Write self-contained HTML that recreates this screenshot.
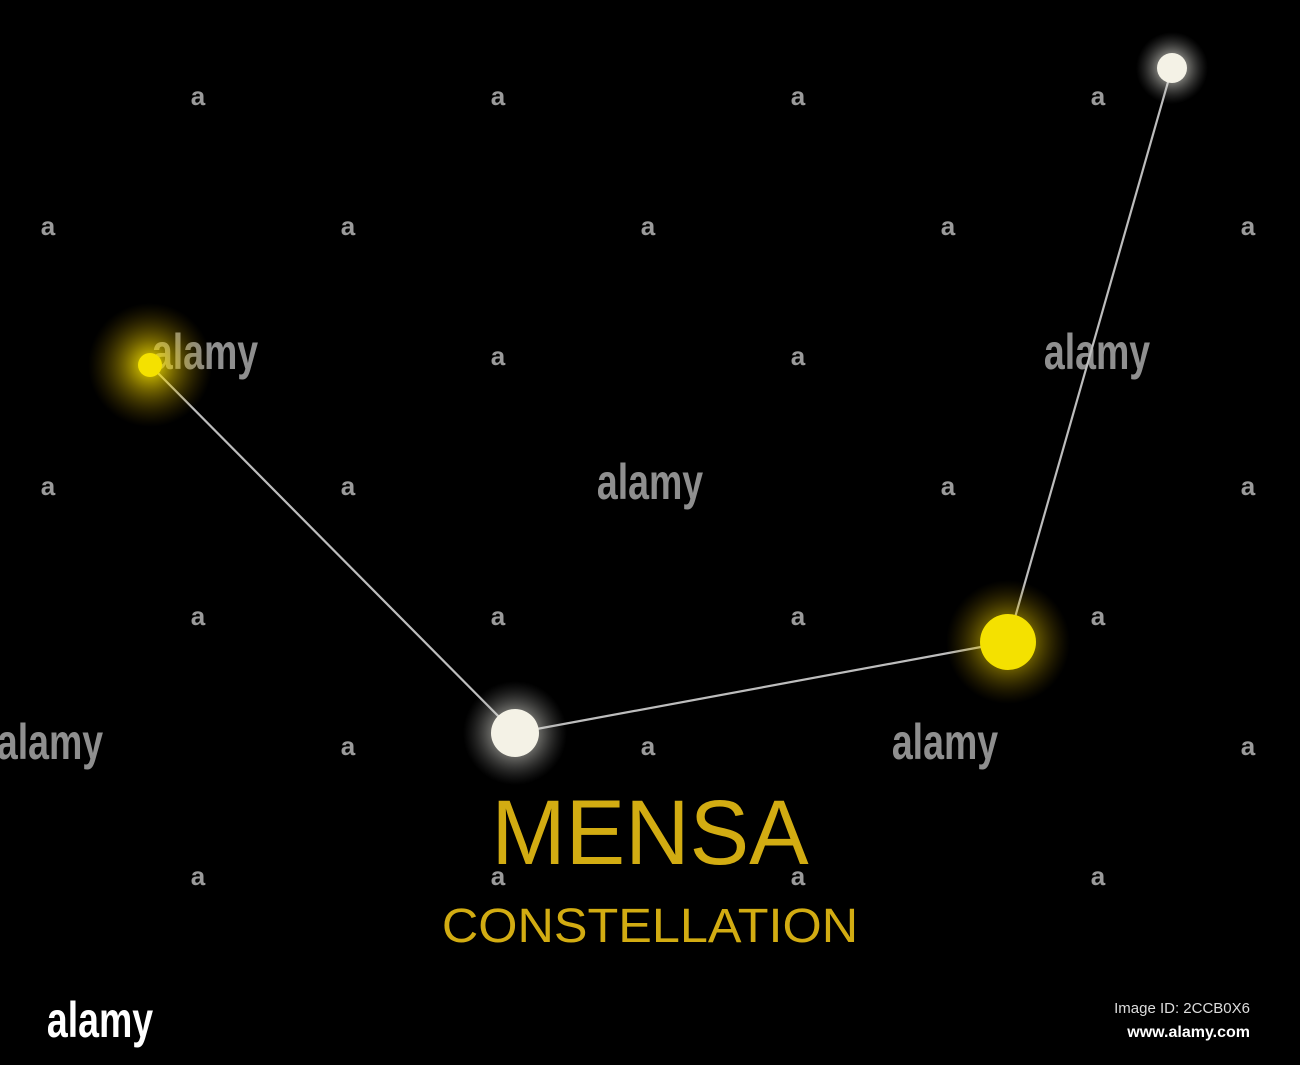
<!DOCTYPE html>
<html><head><meta charset="utf-8"><style>
html,body{margin:0;padding:0;background:#000;width:1300px;height:1065px;overflow:hidden}
svg{display:block}
</style></head><body>
<svg id="c" width="1300" height="1065" viewBox="0 0 1300 1065" xmlns="http://www.w3.org/2000/svg">
<defs>
<radialGradient id="gy"><stop offset="0" stop-color="#ffee00" stop-opacity="0.95"/><stop offset="0.4" stop-color="#e6c800" stop-opacity="0.5"/><stop offset="1" stop-color="#806000" stop-opacity="0"/></radialGradient>
<radialGradient id="gw"><stop offset="0" stop-color="#ffffff" stop-opacity="0.95"/><stop offset="0.45" stop-color="#e8e8e0" stop-opacity="0.45"/><stop offset="1" stop-color="#808080" stop-opacity="0"/></radialGradient>
</defs>
<rect width="1300" height="1065" fill="#000"/>
<g id="wm"></g>
<g id="lines"></g>
<g id="stars"></g>
<text x="650" y="864" text-anchor="middle" font-family="Liberation Sans, sans-serif" font-size="92" fill="#d2ac12" transform="translate(650,0) scale(0.97,1) translate(-650,0)">MENSA</text>
<text x="650" y="942" text-anchor="middle" font-family="Liberation Sans, sans-serif" font-size="48" fill="#d2ac12" transform="translate(650,0) scale(1.05,1) translate(-650,0)">CONSTELLATION</text>
<text x="100" y="1037" text-anchor="middle" font-family="Liberation Sans, sans-serif" font-weight="bold" font-size="50" fill="#fff" transform="translate(100,0) scale(0.75,1) translate(-100,0)">alamy</text>
<text x="1250" y="1013" text-anchor="end" font-family="Liberation Sans, sans-serif" font-size="15" fill="#ddd">Image ID: 2CCB0X6</text>
<text x="1250" y="1037" text-anchor="end" font-family="Liberation Sans, sans-serif" font-weight="bold" font-size="16" fill="#fff">www.alamy.com</text>
</svg>
<script>
const starX=[150,515,1008,1172];
const starY=[365,733,642,68];
const starR=[12,24,28,15];
const starColor=['y','w','y','w'];
const glowR=[62,52,62,36];
const NS='http://www.w3.org/2000/svg';
const ln=document.getElementById('lines'),st=document.getElementById('stars'),wm=document.getElementById('wm');
function mk(t,a,p){const e=document.createElementNS(NS,t);for(const k in a)e.setAttribute(k,a[k]);p.appendChild(e);return e;}
for(let i=0;i<starX.length-1;i++){
  const l=mk('line',{x1:starX[i],y1:starY[i],x2:starX[i+1],y2:starY[i+1],stroke:'#bdbdbd','stroke-width':2.2},ln);
  
  
}
for(let i=0;i<starX.length;i++){
  const y=starColor[i]==='y';
  const g=mk('circle',{cx:starX[i],cy:starY[i],r:glowR[i],fill:y?'url(#gy)':'url(#gw)'},st);
  
  
  const c=mk('circle',{cx:starX[i],cy:starY[i],r:starR[i],fill:y?'#f4e100':'#f4f2e6'},st);
  
  
}
const alX=[205,1097,650,50,945],alY=[355,355,485,745,745];
const aRows1=[95,355,615,875],aCols1=[198,498,798,1098];
const aRows2=[225,485,745],aCols2=[48,348,648,948,1248];
function covered(x,y){for(let i=0;i<alX.length;i++){if(Math.abs(alX[i]-x)<60&&alY[i]===y)return true;}return false;}
function a(x,y){if(covered(x,y))return;const t=mk('text',{x:x,y:y+10,'text-anchor':'middle','font-family':'Liberation Sans, sans-serif','font-weight':'bold','font-size':26,fill:'#9a9a9a'},wm);t.textContent='a';

}
aRows1.forEach(y=>aCols1.forEach(x=>a(x,y)));
aRows2.forEach(y=>aCols2.forEach(x=>a(x,y)));
for(let i=0;i<alX.length;i++){
  const t=mk('text',{x:alX[i],y:alY[i]+14,'text-anchor':'middle','font-family':'Liberation Sans, sans-serif','font-weight':'bold','font-size':50,fill:'#a8a8a8','fill-opacity':0.85,transform:`translate(${alX[i]},0) scale(0.75,1) translate(${-alX[i]},0)`},wm);
  t.textContent='alamy';
  
  
}
</script>
</body></html>
